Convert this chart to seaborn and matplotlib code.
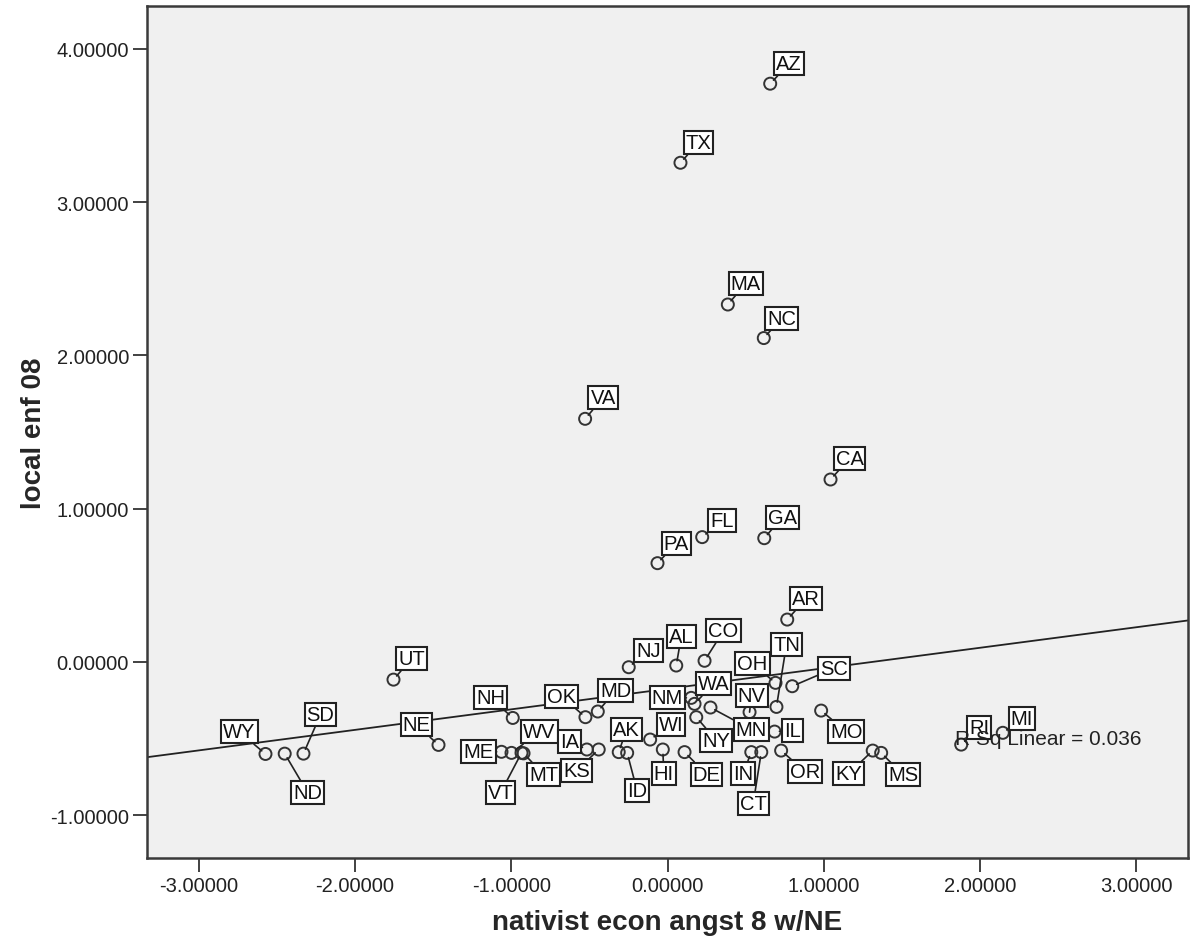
import matplotlib
matplotlib.use("Agg")
import matplotlib.pyplot as plt
import seaborn as sns
import numpy as np
import pandas as pd

# ---------------- data ----------------
states = ["AZ", "TX", "MA", "NC", "VA", "CA", "FL", "GA", "PA", "AR", "UT",
          "NJ", "AL", "CO", "OH", "TN", "SC", "NH", "OK", "MD", "NM", "WA",
          "NY", "NV", "MN", "IL", "WI", "MO", "WY", "ND", "SD", "NE", "ME",
          "WV", "VT", "MT", "IA", "KS", "AK", "ID", "HI", "DE", "IN", "CT",
          "OR", "KY", "MS", "RI", "MI"]
nativist_econ_angst = [0.657, 0.083, 0.386, 0.616, -0.527, 1.043, 0.222, 0.619, -0.064, 0.766, -1.753,
                       -0.248, 0.056, 0.237, 0.691, 0.697, 0.798, -0.990, -0.525, -0.446, 0.152, 0.173,
                       0.184, 0.525, 0.275, 0.685, -0.111, 0.983, -2.572, -2.449, -2.329, -1.465, -1.062,
                       -0.998, -0.934, -0.921, -0.516, -0.440, -0.312, -0.258, -0.030, 0.109, 0.536, 0.600,
                       0.727, 1.313, 1.367, 1.879, 2.145]
local_enf = [3.773, 3.257, 2.332, 2.113, 1.586, 1.190, 0.814, 0.807, 0.644, 0.276, -0.116,
             -0.035, -0.024, 0.007, -0.137, -0.294, -0.159, -0.366, -0.361, -0.324, -0.235, -0.274,
             -0.361, -0.328, -0.298, -0.455, -0.507, -0.318, -0.601, -0.599, -0.599, -0.542, -0.587,
             -0.594, -0.594, -0.597, -0.572, -0.572, -0.589, -0.594, -0.572, -0.589, -0.589, -0.589,
             -0.579, -0.579, -0.594, -0.540, -0.463]

fit_intercept = -0.176
fit_slope = 0.134
r_sq_text = "R Sq Linear = 0.036"

x_ticks = [-3, -2, -1, 0, 1, 2, 3]
y_ticks = [-1, 0, 1, 2, 3, 4]
x_title = "nativist econ angst 8 w/NE"
y_title = "local enf 08"

# ---------------- layout: label offsets in pixels (dx right, dy down) ----------------
label_offsets = {
    "AZ": (19, -20), "TX": (18, -20), "MA": (18, -21), "NC": (18, -20), "VA": (18, -21),
    "CA": (19, -21), "FL": (20, -17), "GA": (18, -21), "PA": (19, -20), "AR": (19, -21),
    "UT": (18, -21), "NJ": (20, -17), "AL": (5, -29), "CO": (19, -30), "OH": (-23, -19),
    "TN": (10, -62), "SC": (42, -18), "NH": (-22, -20), "OK": (-24, -21), "MD": (18, -21),
    "NM": (-24, 0), "WA": (19, -20), "NY": (20, 23), "NV": (2, -17), "MN": (41, 22),
    "IL": (18, -1), "WI": (21, -15), "MO": (25, 21), "WY": (-26, -22), "ND": (23, 39),
    "SD": (17, -39), "NE": (-22, -20), "ME": (-23, 0), "WV": (28, -21), "VT": (-21, 40),
    "MT": (20, 21), "IA": (-17, -8), "KS": (-22, 21), "AK": (8, -23), "ID": (10, 38),
    "HI": (1, 24), "DE": (22, 22), "IN": (-8, 21), "CT": (-8, 51), "OR": (24, 21),
    "KY": (-24, 23), "MS": (22, 22), "RI": (18, -17), "MI": (19, -14),
}

df = pd.DataFrame({"state": states, "angst": nativist_econ_angst, "enf": local_enf})

sns.set_style("white")
plt.rcParams["font.family"] = ["Liberation Sans", "DejaVu Sans"]

W, H = 1193, 953
fig = plt.figure(figsize=(W / 100, H / 100), dpi=100)
ax = fig.add_axes([147 / W, 1 - 859 / H, (1188 - 147) / W, (859 - 7) / H])
ax.set_facecolor("#f0f0f0")

ax.set_xlim(-3.33, 3.33)
ax.set_ylim(-1.28, 4.28)

# fit line
xs = np.array(ax.get_xlim())
sns.lineplot(x=xs, y=fit_intercept + fit_slope * xs, ax=ax, color="#222222",
             linewidth=1.3, zorder=2)

# points
sns.scatterplot(data=df, x="angst", y="enf", ax=ax, s=75, marker="o",
                facecolor="none", edgecolor="#333333", linewidth=1.4, zorder=3)

# state labels
for st, xv, yv in zip(states, nativist_econ_angst, local_enf):
    dx, dy = label_offsets[st]
    ax.annotate(st, (xv, yv), xytext=(dx, -dy), textcoords="offset pixels",
                ha="center", va="center", fontsize=14.5, color="#111111",
                bbox=dict(boxstyle="square,pad=0.1", fc="white", ec="#222222", lw=1.5),
                arrowprops=dict(arrowstyle="-", color="#222222", lw=1.2,
                                shrinkA=0, shrinkB=3.5),
                zorder=5)

ax.text(1.84, -0.503, r_sq_text, fontsize=15, ha="left", va="center", color="#222222", zorder=6)

ax.set_xticks(x_ticks)
ax.set_xticklabels([f"{v:.5f}" for v in x_ticks])
ax.set_yticks(y_ticks)
ax.set_yticklabels([f"{v:.5f}" for v in y_ticks])
ax.tick_params(axis="both", direction="out", length=10, width=1.3, color="#333333",
               labelsize=14.5, labelcolor="#222222", left=True, bottom=True, pad=3)

for sp in ax.spines.values():
    sp.set_color("#3a3a3a")
    sp.set_linewidth(1.8)
    sp.set_visible(True)

ax.set_xlabel(x_title, fontsize=20, fontweight="bold", labelpad=10)
ax.set_ylabel(y_title, fontsize=20, fontweight="bold", labelpad=2)
ax.grid(False)

fig.savefig("out.png", dpi=100, facecolor="white")
